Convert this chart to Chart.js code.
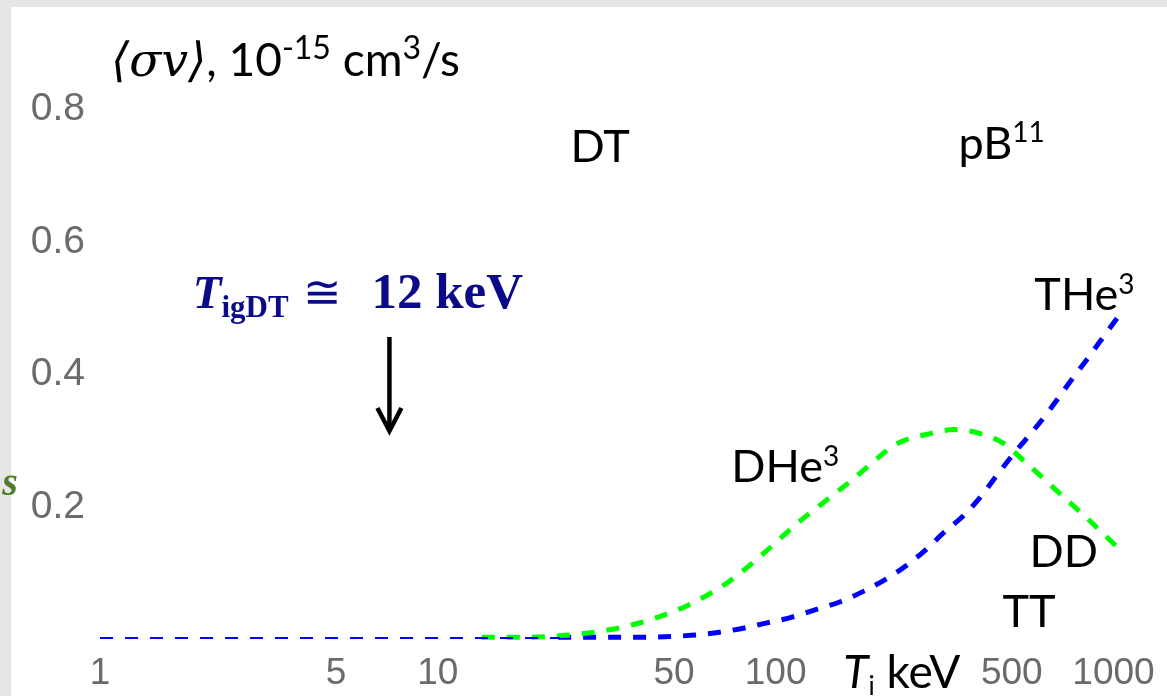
<!DOCTYPE html>
<html>
<head>
<meta charset="utf-8">
<script src="https://cdn.jsdelivr.net/npm/chart.js@4.4.0/dist/chart.umd.min.js"></script>
<style>
  html, body { margin: 0; padding: 0; background: #e6e6e6; }
  #wrap { width: 1167px; height: 696px; }
</style>
</head>
<body>
<div id="wrap"><canvas id="chart" width="1167" height="696"></canvas></div>
<script>
// ion temperature in keV, reactivity <sigma v> in 1e-15 cm^3/s
const baseT = [1, 23];
const baseV = [0.003, 0.003];

const dhe3T = [13.5, 17.7, 20.8, 23.9, 28.3, 33.5, 39.7, 46.4, 54.3, 63.9, 73.7, 92.8, 116, 145, 171, 196, 229, 287, 337, 403, 474, 543, 679, 849, 1035];
const dhe3V = [0.004, 0.004, 0.005, 0.007, 0.011, 0.017, 0.026, 0.037, 0.051, 0.070, 0.090, 0.132, 0.176, 0.215, 0.244, 0.270, 0.296, 0.311, 0.317, 0.311, 0.296, 0.270, 0.225, 0.180, 0.138];

const the3T = [22.7, 39.2, 56.1, 66.5, 78.8, 92.8, 111, 130, 156, 183, 214, 245, 281, 315, 361, 403, 453, 509, 567, 637, 681, 744, 824, 913, 1025, 1056];
const the3V = [0.004, 0.004, 0.007, 0.011, 0.017, 0.025, 0.034, 0.045, 0.058, 0.074, 0.093, 0.113, 0.138, 0.162, 0.188, 0.215, 0.249, 0.282, 0.310, 0.342, 0.362, 0.389, 0.419, 0.450, 0.485, 0.494];

const xTicks = [1, 5, 10, 50, 100, 500, 1000];
const yTicks = [0.2, 0.4, 0.6, 0.8];

const toPoints = (xs, ys) => xs.map((x, i) => ({ x: x, y: ys[i] }));

const LAB = '45px Lato';
const SUP = '28px Lato';
const NAVY = '#0b0b8a';

// text notes, anchored in data units [T, value] (left edge, baseline)
const notes = [
  { at: [24.7, 0.720], runs: [{ t: 'DT', f: LAB }] },
  { at: [348, 0.725], runs: [{ t: 'pB', f: LAB }, { t: '11', f: SUP, dy: -17 }] },
  { at: [583, 0.497], runs: [{ t: 'THe', f: LAB }, { t: '3', f: SUP, dy: -16 }] },
  { at: [73.9, 0.238], runs: [{ t: 'DHe', f: LAB }, { t: '3', f: SUP, dy: -16 }] },
  { at: [564, 0.110], runs: [{ t: 'DD', f: LAB }] },
  { at: [469, 0.0196], runs: [{ t: 'TT', f: LAB }] },
  { at: [1.078, 0.850], runs: [
      { t: '\u27E8\u03C3\u{1D463}\u27E9', f: 'italic 47px "DejaVu Serif", "Liberation Serif"' },
      { t: ', 10', f: '46px Lato' },
      { t: '-15', f: '32px Lato', dy: -17 },
      { t: ' cm', f: '46px Lato' },
      { t: '3', f: '32px Lato', dy: -17 },
      { t: '/s', f: '46px Lato' }
    ] },
  { at: [1.881, 0.500], runs: [
      { t: 'T', f: 'bold italic 47px "Liberation Serif", "DejaVu Serif"', c: NAVY },
      { t: 'igDT', f: 'bold 31px "Liberation Serif", "DejaVu Serif"', c: NAVY, dy: 9 },
      { t: ' \u2245  ', f: '46px "DejaVu Serif", "Liberation Serif"', c: NAVY },
      { t: '12 keV', f: 'bold 51px "Liberation Serif", "DejaVu Serif"', c: NAVY }
    ] },
  { at: [158.6, -0.072], runs: [
      { t: 'T', f: 'italic 46px Lato' },
      { t: 'i', f: '26px Lato', dy: 7 },
      { t: ' keV', f: '46px Lato' }
    ] },
  { at: [0.514, 0.2185], runs: [{ t: 's', f: 'bold italic 40px "Liberation Serif"', c: '#4e7d2d' }] }
];

// ignition arrow, data units
const arrowT = 7.19;
const arrowFrom = 0.4565;
const arrowTo = 0.3119;

const backdrop = {
  id: 'backdrop',
  beforeDraw(chart) {
    const ctx = chart.ctx;
    ctx.save();
    ctx.fillStyle = '#e6e6e6';
    ctx.fillRect(0, 0, chart.width, chart.height);
    ctx.fillStyle = '#ffffff';
    ctx.fillRect(11, 7, chart.width - 11, chart.height - 7);
    ctx.restore();
  }
};

const annotate = {
  id: 'annotate',
  afterDraw(chart) {
    const ctx = chart.ctx;
    const xs = chart.scales.x;
    const ys = chart.scales.y;
    ctx.save();
    ctx.textBaseline = 'alphabetic';
    ctx.textAlign = 'left';
    for (const n of notes) {
      let px = xs.getPixelForValue(n.at[0]);
      const py = ys.getPixelForValue(n.at[1]);
      for (const r of n.runs) {
        ctx.font = r.f;
        ctx.fillStyle = r.c || '#000000';
        ctx.fillText(r.t, px, py + (r.dy || 0));
        px += ctx.measureText(r.t).width;
      }
    }
    // arrow
    const ax = xs.getPixelForValue(arrowT);
    const a0 = ys.getPixelForValue(arrowFrom);
    const a1 = ys.getPixelForValue(arrowTo);
    ctx.strokeStyle = '#000000';
    ctx.lineWidth = 4.5;
    ctx.lineCap = 'butt';
    ctx.beginPath();
    ctx.moveTo(ax, a0);
    ctx.lineTo(ax, a1 - 2);
    ctx.stroke();
    ctx.lineJoin = 'miter';
    ctx.beginPath();
    ctx.moveTo(ax - 12, a1 - 25);
    ctx.lineTo(ax, a1 - 2);
    ctx.lineTo(ax + 12, a1 - 25);
    ctx.stroke();
    ctx.restore();
  }
};

new Chart(document.getElementById('chart'), {
  type: 'line',
  data: {
    datasets: [
      {
        label: 'baseline',
        data: toPoints(baseT, baseV),
        borderColor: '#0000ff',
        borderWidth: 2,
        borderDash: [13, 12],
        pointRadius: 0
      },
      {
        label: 'DHe3',
        data: toPoints(dhe3T, dhe3V),
        borderColor: '#00ff00',
        borderWidth: 5,
        borderDash: [13, 12],
        pointRadius: 0,
        cubicInterpolationMode: 'monotone'
      },
      {
        label: 'THe3',
        data: toPoints(the3T, the3V),
        borderColor: '#0000ff',
        borderWidth: 5,
        borderDash: [13, 12],
        pointRadius: 0,
        cubicInterpolationMode: 'monotone'
      }
    ]
  },
  options: {
    responsive: false,
    animation: false,
    devicePixelRatio: 1,
    layout: { padding: { left: 0, top: 109, right: 42, bottom: 0 } },
    plugins: {
      legend: { display: false },
      tooltip: { enabled: false }
    },
    scales: {
      x: {
        type: 'logarithmic',
        min: 1,
        max: 1060,
        grid: { display: false, drawTicks: false },
        border: { display: false },
        afterBuildTicks: (s) => { s.ticks = xTicks.map((v) => ({ value: v })); },
        afterFit: (s) => { s.height = 56; },
        ticks: {
          autoSkip: false,
          maxRotation: 0,
          color: '#6b6b6b',
          font: { family: '"Liberation Sans", Arial', size: 37 },
          padding: 12,
          callback: (v) => String(v)
        }
      },
      y: {
        min: 0,
        max: 0.8,
        grid: { display: false, drawTicks: false },
        border: { display: false },
        afterBuildTicks: (s) => { s.ticks = yTicks.map((v) => ({ value: v })); },
        afterFit: (s) => { s.width = 100; },
        ticks: {
          color: '#6b6b6b',
          font: { family: '"Liberation Sans", Arial', size: 39 },
          padding: 15,
          callback: (v) => v.toFixed(1)
        }
      }
    }
  },
  plugins: [backdrop, annotate]
});
</script>
</body>
</html>
